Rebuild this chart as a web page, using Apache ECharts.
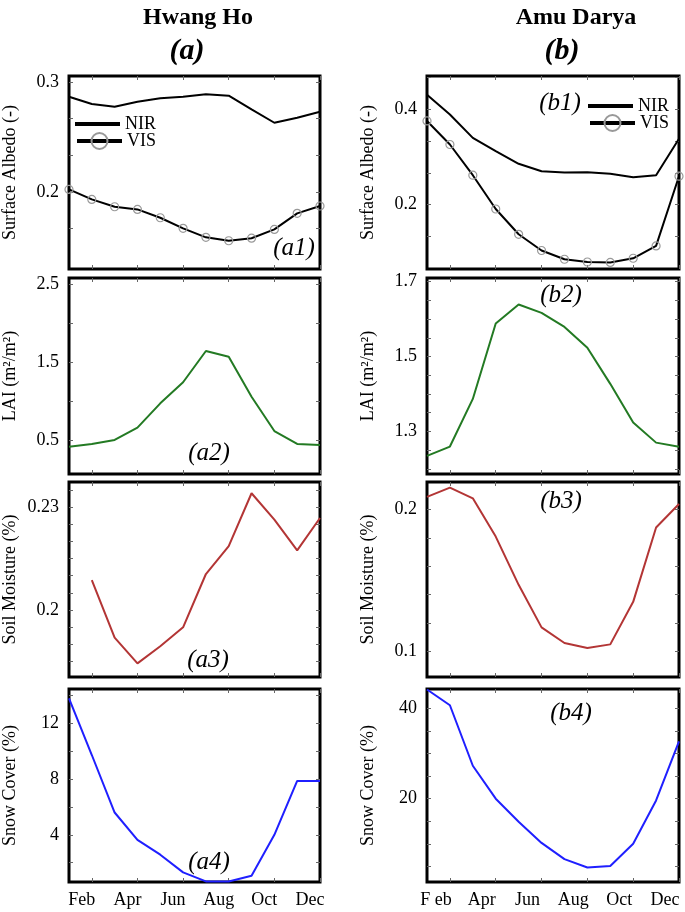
<!DOCTYPE html>
<html><head><meta charset="utf-8">
<script src="https://cdn.jsdelivr.net/npm/echarts@6/dist/echarts.min.js"></script>
<style>html,body{margin:0;padding:0;background:#fff}#c{width:685px;height:912px}</style>
</head><body><div id="c"></div>
<script>
// ---- data ----
const months = ['Jan','Feb','Mar','Apr','May','Jun','Jul','Aug','Sep','Oct','Nov','Dec'];
const monthLabelsHH = {Feb:'Feb', Apr:'Apr', Jun:'Jun', Aug:'Aug', Oct:'Oct', Dec:'Dec'};
const monthLabelsAD = {Feb:'F eb', Apr:'Apr', Jun:'Jun', Aug:'Aug', Oct:'Oct', Dec:'Dec'};

// Hwang Ho
const nirHH  = [0.2866, 0.2800, 0.2776, 0.2820, 0.2852, 0.2866, 0.2888, 0.2876, 0.2752, 0.2630, 0.2676, 0.2730];
const visHH  = [0.2024, 0.1933, 0.1866, 0.1842, 0.1766, 0.1670, 0.1588, 0.1557, 0.1580, 0.1660, 0.1806, 0.1873];
const laiHH  = [0.414, 0.449, 0.500, 0.658, 0.970, 1.240, 1.641, 1.568, 1.055, 0.615, 0.449, 0.436];
const smHH   = [null, 0.2087, 0.1920, 0.1845, 0.1895, 0.1950, 0.2105, 0.2186, 0.2340, 0.2263, 0.2174, 0.2268];
const snowHH = [13.8, 9.73, 5.6, 3.64, 2.57, 1.3, 0.65, 0.65, 1.06, 4.0, 7.87, 7.87];

// Amu Darya
const nirAD  = [0.430, 0.389, 0.340, 0.312, 0.2857, 0.270, 0.2674, 0.268, 0.2646, 0.2575, 0.2617, 0.338];
const visAD  = [0.3754, 0.326, 0.2617, 0.191, 0.138, 0.104, 0.0857, 0.080, 0.079, 0.0878, 0.1137, 0.2596];
const laiAD  = [1.2345, 1.2595, 1.3867, 1.588, 1.639, 1.6165, 1.579, 1.5236, 1.427, 1.324, 1.270, 1.2587];
const smAD   = [0.209, 0.2155, 0.208, 0.181, 0.147, 0.117, 0.106, 0.1024, 0.105, 0.135, 0.1874, 0.204];
const snowAD = [44.2, 40.7, 27.3, 20.0, 14.9, 10.2, 6.6, 4.75, 5.1, 10.0, 19.6, 32.7];

// tick labels
const albedoLabelsHH = [0.2, 0.3];
const albedoLabelsAD = [0.2, 0.4];
const laiLabelsHH = [0.5, 1.5, 2.5];
const laiLabelsAD = [1.3, 1.5, 1.7];
const smLabelsHH = [0.2, 0.23];
const smLabelsAD = [0.1, 0.2];
const snowLabelsHH = [4, 8, 12];
const snowLabelsAD = [20, 40];

// ---- layout/style ----
const FONT = 'Liberation Serif';
const cols = [{left: 67, width: 253}, {left: 427, width: 252}];
const rows = [{top: 76, height: 193}, {top: 278, height: 196}, {top: 482, height: 195}, {top: 689, height: 193}];

function range(a, b, s) { const r = []; for (let v = a; v <= b + 1e-9; v += s) r.push(+v.toFixed(6)); return r; }

const panels = [
  {col:0,row:0,yName:'Surface Albedo (-)',min:0.13,max:0.3055,labels:albedoLabelsHH,ticks:[0.16667,0.2,0.23333,0.26667,0.3],
    series:[{name:'NIR',data:nirHH,kind:'nir'},{name:'VIS',data:visHH,kind:'vis'}]},
  {col:0,row:1,yName:'LAI (m²/m²)',min:0.064,max:2.577,labels:laiLabelsHH,ticks:[0.5,1,1.5,2,2.5],
    series:[{name:'LAI HH',data:laiHH,color:'#237a23'}]},
  {col:0,row:2,yName:'Soil Moisture (%)',min:0.18054,max:0.23727,labels:smLabelsHH,ticks:range(0.185,0.235,0.005),
    series:[{name:'SM HH',data:smHH,color:'#b33535'}]},
  {col:0,row:3,yName:'Snow Cover (%)',min:0.61,max:14.47,labels:snowLabelsHH,ticks:range(2,14,2),
    series:[{name:'Snow HH',data:snowHH,color:'#1f1fff'}]},
  {col:1,row:0,yName:'Surface Albedo (-)',min:0.0653,max:0.4695,labels:albedoLabelsAD,ticks:[0.13333,0.2,0.26667,0.33333,0.4,0.46667],
    series:[{name:'NIR',data:nirAD,kind:'nir'},{name:'VIS',data:visAD,kind:'vis'}]},
  {col:1,row:1,yName:'LAI (m²/m²)',min:1.1862,max:1.7097,labels:laiLabelsAD,ticks:range(1.2,1.7,0.05),
    series:[{name:'LAI AD',data:laiAD,color:'#237a23'}]},
  {col:1,row:2,yName:'Soil Moisture (%)',min:0.082,max:0.2195,labels:smLabelsAD,ticks:range(0.1,0.2,0.02),
    series:[{name:'SM AD',data:smAD,color:'#b33535'}]},
  {col:1,row:3,yName:'Snow Cover (%)',min:1.54,max:44.3,labels:snowLabelsAD,ticks:range(5,40,5),
    series:[{name:'Snow AD',data:snowAD,color:'#1f1fff'}]}
];

const grid = [], xAxis = [], yAxis = [], series = [];
const tickStyle = {color: '#666', width: 1};
panels.forEach((p, i) => {
  const c = cols[p.col], r = rows[p.row];
  grid.push({left: c.left, width: c.width, top: r.top, height: r.height, show: true,
    borderColor: '#000', borderWidth: 3, backgroundColor: 'transparent', containLabel: false});
  const lblMap = p.col === 0 ? monthLabelsHH : monthLabelsAD;
  const isOdd = (idx) => idx % 2 === 1;
  xAxis.push({type: 'category', gridIndex: i, data: months, boundaryGap: false, position: 'bottom',
    axisLine: {show: false},
    axisTick: {show: true, inside: true, interval: isOdd, length: 4, lineStyle: tickStyle},
    axisLabel: {show: p.row === 3, interval: isOdd, formatter: (v) => lblMap[v] || '',
      fontFamily: FONT, fontSize: 18, color: '#000', margin: 9,
      padding: p.col === 0 ? [0, 20, 0, 0] : [0, 28, 0, 0]},
    splitLine: {show: false}});
  xAxis.push({type: 'category', gridIndex: i, data: months, boundaryGap: false, position: 'top',
    axisLine: {show: false},
    axisTick: {show: true, inside: true, interval: isOdd, length: 4, lineStyle: tickStyle},
    axisLabel: {show: false}, splitLine: {show: false}});
  yAxis.push({type: 'value', gridIndex: i, min: p.min, max: p.max, position: 'left',
    axisLine: {show: false},
    axisTick: {show: true, inside: true, customValues: p.ticks, length: 4, lineStyle: tickStyle},
    axisLabel: {customValues: p.labels, fontFamily: FONT, fontSize: 18, color: '#000', margin: 10},
    splitLine: {show: false},
    name: p.yName, nameLocation: 'middle', nameGap: 50,
    nameTextStyle: {fontFamily: FONT, fontSize: 18, color: '#000'}});
  yAxis.push({type: 'value', gridIndex: i, min: p.min, max: p.max, position: 'right',
    axisLine: {show: false},
    axisTick: {show: true, inside: true, customValues: p.ticks, length: 4, lineStyle: tickStyle},
    axisLabel: {show: false}, splitLine: {show: false}});
  p.series.forEach(s => {
    const base = {type: 'line', name: s.name, xAxisIndex: 2 * i, yAxisIndex: 2 * i, data: s.data,
      animation: false, silent: true, connectNulls: false};
    if (s.kind === 'nir') {
      Object.assign(base, {symbol: 'none', color: '#000', lineStyle: {color: '#000', width: 2}});
    } else if (s.kind === 'vis') {
      Object.assign(base, {symbol: 'circle', symbolSize: 8, showSymbol: true,
        lineStyle: {color: '#000', width: 2},
        itemStyle: {color: 'rgba(0,0,0,0)', borderColor: '#999', borderWidth: 1.2}});
    } else {
      Object.assign(base, {symbol: 'none', color: s.color, lineStyle: {color: s.color, width: 2}});
    }
    series.push(base);
  });
});

const legendBase = {orient: 'vertical', itemWidth: 45, itemHeight: 20, itemGap: 0, itemTextGap: 3,
  textStyle: {fontFamily: FONT, fontSize: 18, color: '#000'}, lineStyle: {width: 4}, selectedMode: false,
  padding: 0};
const nirItem = [{name: 'NIR', icon: 'rect', itemStyle: {color: '#000'}}];
const legend = [
  Object.assign({}, legendBase, {left: 75, top: 115, itemHeight: 4, data: nirItem}),
  Object.assign({}, legendBase, {left: 75, top: 132, data: ['VIS']}),
  Object.assign({}, legendBase, {left: 588, top: 97, itemHeight: 4, data: nirItem}),
  Object.assign({}, legendBase, {left: 588, top: 114, data: ['VIS']})
];

function txt(t, x, y, font) {
  return {type: 'text', x: x, y: y, silent: true,
    style: {text: t, font: font, fill: '#000', align: 'center', verticalAlign: 'middle'}};
}
const it = 'italic 25px "Liberation Serif"';
const graphic = [
  txt('Hwang Ho', 198, 18, 'bold 24px "Liberation Serif"'),
  txt('Amu Darya', 576, 18, 'bold 24px "Liberation Serif"'),
  txt('(a)', 187, 51, 'bold italic 30px "Liberation Serif"'),
  txt('(b)', 562, 51, 'bold italic 30px "Liberation Serif"'),
  txt('(a1)', 294, 248, it),
  txt('(a2)', 209, 453, it),
  txt('(a3)', 208, 660, it),
  txt('(a4)', 209, 862, it),
  txt('(b1)', 560, 103, it),
  txt('(b2)', 561, 295, it),
  txt('(b3)', 561, 501, it),
  txt('(b4)', 571, 713, it)
];

const chart = echarts.init(document.getElementById('c'), null, {renderer: 'canvas'});
chart.setOption({
  backgroundColor: '#fff',
  animation: false,
  grid, xAxis, yAxis, series, legend, graphic
});
</script>
</body></html>
